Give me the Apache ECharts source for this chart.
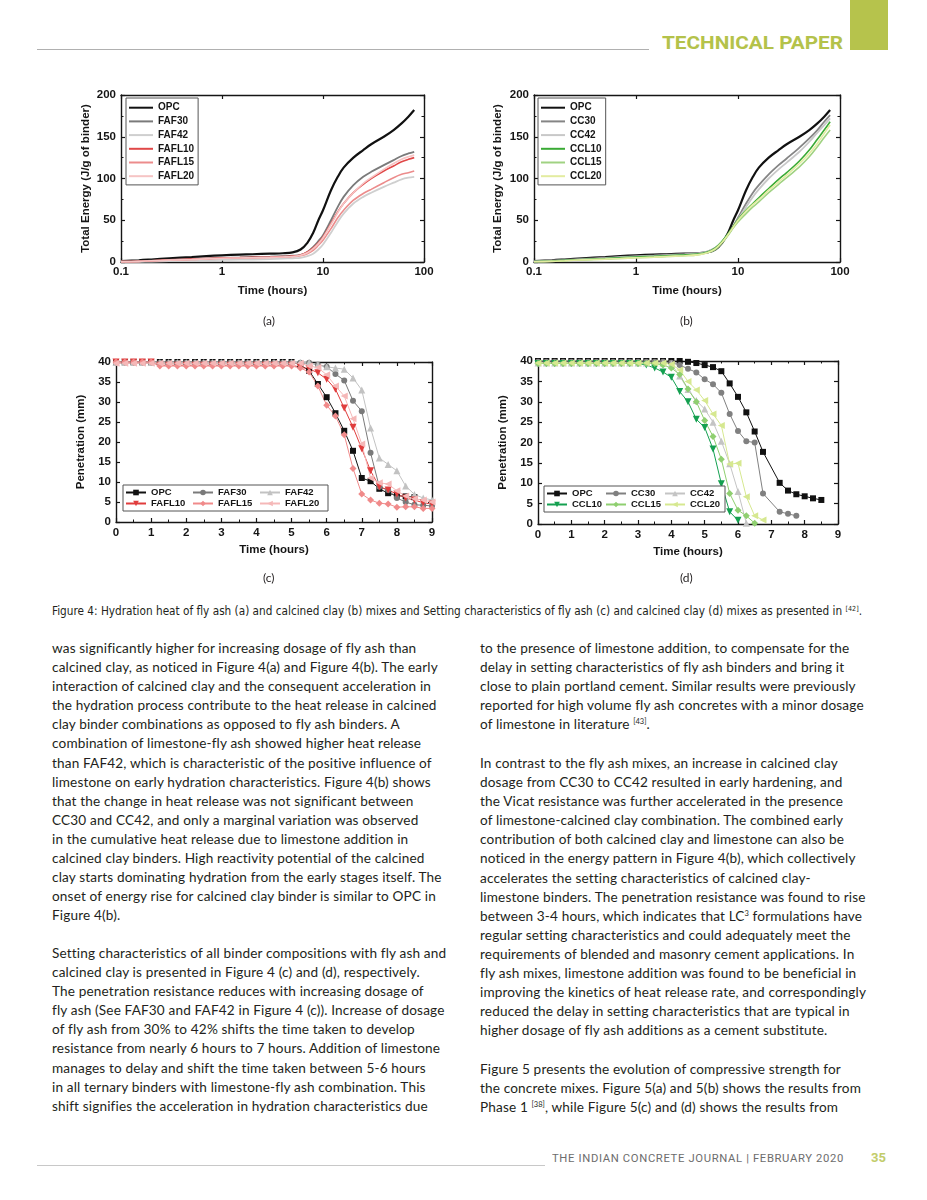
<!DOCTYPE html>
<html>
<head>
<meta charset="utf-8">
<script src="https://cdn.jsdelivr.net/npm/echarts@6/dist/echarts.min.js"></script>
<style>
  html, body { margin:0; padding:0; }
  body { width:927px; height:1200px; position:relative; background:#fff; overflow:hidden; }
  .abs { position:absolute; }
  .chart { position:absolute; width:390px; height:250px; }
  .col { position:absolute; font-family:Lato, "Noto Sans", sans-serif; font-size:13.6px; letter-spacing:0.15px; line-height:19.1px; color:#231f20; white-space:nowrap; }
  .col sup { font-size:7.5px; line-height:0; vertical-align:5px; letter-spacing:0; }
  .sub { position:absolute; font-family:Lato, "Noto Sans", sans-serif; font-size:12px; color:#231f20; }
</style>
</head>
<body>
<!-- header -->
<div class="abs" style="left:37px; top:49px; width:612px; height:1px; background:#b0b0b0;"></div>
<div class="abs fit" data-w="181" style="left:662px; top:32px; font-family:Roboto, sans-serif; font-weight:bold; font-size:18.5px; line-height:22px; color:#b4c24a; white-space:nowrap;">TECHNICAL PAPER</div>
<div class="abs" style="left:850px; top:0px; width:38px; height:50px; background:#b6c34c;"></div>

<div id="ca" class="chart" style="left:60px; top:80px;"></div>
<div id="cb" class="chart" style="left:470px; top:80px;"></div>
<div id="cc" class="chart" style="left:60px; top:340px;"></div>
<div id="cd" class="chart" style="left:470px; top:340px;"></div>

<div class="sub" style="left:263px; top:313px;">(a)</div>
<div class="sub" style="left:680px; top:313px;">(b)</div>
<div class="sub" style="left:263px; top:570px;">(c)</div>
<div class="sub" style="left:680px; top:570px;">(d)</div>

<div class="abs fit" data-w="810" style="left:52px; top:604px; font-family:'Liberation Sans Narrow','DejaVu Sans Condensed',sans-serif; font-size:11.5px; line-height:14px; color:#231f20; white-space:nowrap;">Figure 4: Hydration heat of fly ash (a) and calcined clay (b) mixes and Setting characteristics of fly ash (c) and calcined clay (d) mixes as presented in <sup style="font-size:7px; vertical-align:4px; line-height:0;">[42]</sup>.</div>

<div class="col" style="left:52px; top:639px;">
<div>was significantly higher for increasing dosage of fly ash than</div>
<div>calcined clay, as noticed in Figure 4(a) and Figure 4(b). The early</div>
<div>interaction of calcined clay and the consequent acceleration in</div>
<div>the hydration process contribute to the heat release in calcined</div>
<div>clay binder combinations as opposed to fly ash binders. A</div>
<div>combination of limestone-fly ash showed higher heat release</div>
<div>than FAF42, which is characteristic of the positive influence of</div>
<div>limestone on early hydration characteristics. Figure 4(b) shows</div>
<div>that the change in heat release was not significant between</div>
<div>CC30 and CC42, and only a marginal variation was observed</div>
<div>in the cumulative heat release due to limestone addition in</div>
<div>calcined clay binders. High reactivity potential of the calcined</div>
<div>clay starts dominating hydration from the early stages itself. The</div>
<div>onset of energy rise for calcined clay binder is similar to OPC in</div>
<div>Figure 4(b).</div>
</div>
<div class="col" style="left:52px; top:944px;">
<div>Setting characteristics of all binder compositions with fly ash and</div>
<div>calcined clay is presented in Figure 4 (c) and (d), respectively.</div>
<div>The penetration resistance reduces with increasing dosage of</div>
<div>fly ash (See FAF30 and FAF42 in Figure 4 (c)). Increase of dosage</div>
<div>of fly ash from 30% to 42% shifts the time taken to develop</div>
<div>resistance from nearly 6 hours to 7 hours. Addition of limestone</div>
<div>manages to delay and shift the time taken between 5-6 hours</div>
<div>in all ternary binders with limestone-fly ash combination. This</div>
<div>shift signifies the acceleration in hydration characteristics due</div>
</div>

<div class="col" style="left:480px; top:639px;">
<div>to the presence of limestone addition, to compensate for the</div>
<div>delay in setting characteristics of fly ash binders and bring it</div>
<div>close to plain portland cement. Similar results were previously</div>
<div>reported for high volume fly ash concretes with a minor dosage</div>
<div>of limestone in literature <sup>[43]</sup>.</div>
</div>
<div class="col" style="left:480px; top:754px;">
<div>In contrast to the fly ash mixes, an increase in calcined clay</div>
<div>dosage from CC30 to CC42 resulted in early hardening, and</div>
<div>the Vicat resistance was further accelerated in the presence</div>
<div>of limestone-calcined clay combination. The combined early</div>
<div>contribution of both calcined clay and limestone can also be</div>
<div>noticed in the energy pattern in Figure 4(b), which collectively</div>
<div>accelerates the setting characteristics of calcined clay-</div>
<div>limestone binders. The penetration resistance was found to rise</div>
<div>between 3-4 hours, which indicates that LC<sup>3</sup> formulations have</div>
<div>regular setting characteristics and could adequately meet the</div>
<div>requirements of blended and masonry cement applications. In</div>
<div>fly ash mixes, limestone addition was found to be beneficial in</div>
<div>improving the kinetics of heat release rate, and correspondingly</div>
<div>reduced the delay in setting characteristics that are typical in</div>
<div>higher dosage of fly ash additions as a cement substitute.</div>
</div>
<div class="col" style="left:480px; top:1060px;">
<div>Figure 5 presents the evolution of compressive strength for</div>
<div>the concrete mixes. Figure 5(a) and 5(b) shows the results from</div>
<div>Phase 1 <sup>[38]</sup>, while Figure 5(c) and (d) shows the results from</div>
</div>

<!-- footer -->
<div class="abs" style="left:37px; top:1165px; width:508px; height:1px; background:#c8c8c8;"></div>
<div class="abs fit" data-w="292" style="left:552px; top:1153px; font-family:Roboto, sans-serif; font-size:10.5px; line-height:12px; letter-spacing:0.6px; color:#6d6d6d; white-space:nowrap;">THE INDIAN CONCRETE JOURNAL | FEBRUARY 2020</div>
<div class="abs" style="left:871px; top:1151px; font-family:Roboto, sans-serif; font-weight:bold; font-size:13px; line-height:14px; color:#c2cc6a;">35</div>

<script>
// ---------------- DATA ----------------
// Fig 4(a),(b): cumulative heat, time in hours (log axis)
const tHeat = [0.1,0.15,0.2,0.3,0.5,0.7,1,1.5,2,3,4,5,6,7,8,9,10,12,14,16,20,25,30,40,50,60,70,80];
const heatOPC    = [1,2,3,4.5,6,7,8,8.8,9.3,10,10.5,11.5,15,23,35,50,62,86,102,113,125,134,141,150,158,166,174,182];
const heatFAF30  = [0.5,0.8,1.5,2.5,3.5,4,5,5.5,6,6.5,7,7.5,8.5,12,18,25,32,50,66,78,92,102,108,116,122,127,130,132];
const heatFAF42  = [0,0.2,0.5,1,1.5,2,2.5,2.8,3,3.5,4,4.5,5,7,10,15,21,35,48,58,70,78,83,90,95,99,101,102];
const heatFAFL10 = [0.5,0.8,1.5,2.5,3.5,4,5,5.2,5.5,6,6.5,7,8.5,12,17,23,30,46,60,70,83,93,100,109,115,120,123,125];
const heatFAFL15 = [0.5,0.8,1.5,2.2,3,3.8,4.5,4.8,5,5.5,6,6.5,7.5,10,14,20,26,40,53,62,74,82,87,95,101,105,107,109];
const heatFAFL20 = [0.5,0.8,1.5,2.2,3,3.8,4.5,4.8,5,5.5,6,6.5,8,11,16,22,29,45,59,70,83,94,101,111,118,123,126,128];
const heatCC30   = [1,1.8,2.5,3.8,5,6,7,7.8,8.5,9.5,10.5,12.5,17,24,33,43,53,70,83,92,105,116,124,137,148,158,168,176];
const heatCC42   = [0.5,1.2,2,3.2,4.5,5.5,6.5,7.3,8,9,10,12.5,17,24,33,42,51,66,78,87,100,111,119,132,144,155,164,172];
const heatCCL10  = [0.5,1.2,2,3,4,5,6,6.8,7.5,8.5,9.5,12,17,25,34,43,51,62,70,77,88,99,107,121,134,147,158,168];
const heatCCL15  = [0.3,0.8,1.5,2.5,3.5,4.2,5,5.8,6.5,7.5,8.5,11,15,23,32,41,48,58,66,72,83,93,101,114,126,138,149,158];
const heatCCL20  = [0.3,0.8,1.5,2.5,3.5,4.2,5,5.8,6.5,7.5,8.5,11,16,24,33,42,50,61,69,75,86,96,104,118,130,142,154,164];
const heatTicksY = [0,50,100,150,200];

// Fig 4(c),(d): penetration (mm), time in hours
const tPen = [0,0.25,0.5,0.75,1,1.25,1.5,1.75,2,2.25,2.5,2.75,3,3.25,3.5,3.75,4,4.25,4.5,4.75,5,5.25,5.5,5.75,6,6.25,6.5,6.75,7,7.25,7.5,7.75,8,8.25,8.5,8.75,9];
const penOPCc   = [40,40,40,40,40,40,40,40,40,40,40,40,40,40,40,40,40,40,40,40,40,39.3,37.8,34.5,31.2,27.2,22.8,17.8,11.0,10.2,8.3,7.2,6.6,6.4,6.2,null,null];
const penFAF30  = [39.8,39.8,39.8,39.8,39.8,39.8,39.8,39.8,39.8,39.8,39.8,39.8,39.8,39.8,39.8,39.8,39.8,39.8,39.8,39.8,39.8,39.8,39.8,39.3,38.8,37.0,35.4,30.3,27.7,17.3,8.8,8.0,6.0,5.0,4.3,4.2,4.0];
const penFAF42  = [39.9,39.9,39.9,39.9,39.9,39.9,39.9,39.9,39.9,39.9,39.9,39.9,39.9,39.9,39.9,39.9,39.9,39.9,39.9,39.9,39.9,39.9,39.9,39.3,38.8,38.5,38.2,36.0,33.0,23.5,16.0,14.4,12.8,9.0,6.9,6.0,5.5];
const penFAFL10 = [40,40,40,40,40,39.2,39.2,39.2,39.2,39.2,39.2,39.2,39.2,39.2,39.2,39.2,39.2,39.2,39.2,39.2,39.2,38.7,38.3,37.3,35.7,33.2,28.5,23.7,18.3,12.8,8.8,8.0,7.0,6.0,5.5,4.8,4.5];
const penFAFL15 = [40,40,40,40,40,39.0,39.0,39.0,39.0,39.0,39.0,39.0,39.0,39.0,39.0,39.0,39.0,39.0,39.0,39.0,39.0,38.5,37.5,34.0,29.2,26.5,21.8,13.4,7.0,5.5,4.7,4.5,3.7,3.8,3.8,3.4,3.4];
const penFAFL20 = [39.7,39.7,39.7,39.7,39.7,39.7,39.7,39.7,39.7,39.7,39.7,39.7,39.7,39.7,39.7,39.7,39.7,39.7,39.7,39.7,39.7,39.7,39.0,38.6,36.8,34.0,31.5,25.8,19.5,11.0,9.8,9.5,7.8,6.5,5.8,5.5,5.0];
const penOPCd   = [40,40,40,40,40,40,40,40,40,40,40,40,40,40,40,40,40,40,39.8,39.5,39.0,38.5,37.5,34.5,31.2,27.4,22.7,17.7,null,10.1,8.2,7.3,6.8,6.3,5.9,null,null];
const penCC30   = [39.8,39.8,39.8,39.8,39.8,39.8,39.8,39.8,39.8,39.8,39.8,39.8,39.8,39.8,39.8,39.8,39.6,39.0,38.1,37.2,35.5,34.3,32.2,27.0,22.8,20.3,20.0,7.5,null,3.0,2.5,2.0,null,null,null,null,null];
const penCC42   = [39.5,39.5,39.5,39.5,39.5,39.5,39.5,39.5,39.5,39.5,39.5,39.5,39.5,39.5,39.5,39.5,39.3,36.3,33.0,30.3,28.2,25.0,20.3,14.8,8.0,0.2,null,null,null,null,null,null,null,null,null,null,null];
const penCCL10  = [39.4,39.4,39.4,39.4,39.4,39.4,39.4,39.4,39.4,39.4,39.4,39.4,39.4,39.0,38.3,37.3,36.0,32.5,30.0,25.7,23.7,18.4,9.9,3.0,0.9,null,null,null,null,null,null,null,null,null,null,null,null];
const penCCL15  = [39.4,39.4,39.4,39.4,39.4,39.4,39.4,39.4,39.4,39.4,39.4,39.4,39.4,39.4,39.4,39.0,38.3,36.7,33.1,30.0,25.4,21.5,15.9,7.5,3.4,2.0,0.2,null,null,null,null,null,null,null,null,null,null];
const penCCL20  = [39.5,39.5,39.5,39.5,39.5,39.5,39.5,39.5,39.5,39.5,39.5,39.5,39.5,39.5,39.5,39.5,39.2,37.8,35.0,32.9,30.3,27.0,24.2,14.7,14.9,6.7,2.0,1.0,null,null,null,null,null,null,null,null,null];
const penTicksY = [0,5,10,15,20,25,30,35,40];
const penTicksX = [0,1,2,3,4,5,6,7,8,9];

// ---------------- STYLE HELPERS ----------------
const FONT = '"Liberation Sans", Arial, sans-serif';
const INK = '#151515';
function axisBase(extra) {
  return Object.assign({
    axisLine: { show:true, onZero:false, lineStyle:{ color:INK, width:1.4 } },
    axisTick: { show:true, inside:true, length:4, lineStyle:{ color:INK, width:1.2 } },
    axisLabel: { color:INK, fontWeight:'bold', fontSize:11.5, fontFamily:FONT, margin:5 },
    splitLine: { show:false },
    nameTextStyle: { color:INK, fontWeight:'bold', fontSize:11.5, fontFamily:FONT },
    nameLocation: 'middle',
    nameMoveOverlap: false
  }, extra);
}
function mirror(axis, pos) {
  const a = JSON.parse(JSON.stringify(axis));
  delete a.name;
  a.position = pos;
  a.axisLabel = { show:false };
  return a;
}
function heatSeries(name, vals, color, width) {
  return { type:'line', name, data: tHeat.map((t,i)=>[t, vals[i]]), symbol:'none', smooth:0.35,
           lineStyle:{ color, width }, itemStyle:{ color }, animation:false };
}
function penSeries(name, vals, color, symbol, rot, size) {
  return { type:'line', name, data: tPen.map((t,i)=>[t, vals[i]]).filter(p=>p[1]!=null),
           symbol, symbolRotate: rot||0, symbolSize: size||6, showSymbol:true, showAllSymbol:true,
           lineStyle:{ color, width:1 }, itemStyle:{ color }, animation:false };
}
function heatOption(gridPos, legendPos, yGap, series) {
  const x = axisBase({ type:'log', logBase:10, min:0.1, max:100, name:'Time (hours)', nameGap:23,
                       axisLabel:{ color:INK, fontWeight:'bold', fontSize:11.5, fontFamily:FONT, margin:4, formatter:v=>String(v) } });
  const y = axisBase({ type:'value', min:heatTicksY[0], max:heatTicksY[heatTicksY.length-1], interval:heatTicksY[1]-heatTicksY[0],
                       name:'Total Energy (J/g of binder)', nameGap:yGap, minorTick:{ show:true, splitNumber:2, length:2.5, lineStyle:{ color:INK } } });
  return {
    animation:false,
    grid: gridPos,
    xAxis: [x, mirror(x,'top')],
    yAxis: [y, mirror(y,'right')],
    legend: Object.assign({ orient:'vertical', icon:'rect', itemWidth:24, itemHeight:2, itemGap:2.3, padding:[4,4,3,3],
      borderColor:'#555', borderWidth:1, backgroundColor:'#fff',
      textStyle:{ color:INK, fontWeight:'bold', fontSize:10, fontFamily:FONT, lineHeight:11.4 } }, legendPos),
    series
  };
}
function penOption(gridPos, legendPos, yGap, textW, series) {
  const x = axisBase({ type:'value', min:penTicksX[0], max:penTicksX[penTicksX.length-1], interval:1, name:'Time (hours)', nameGap:22,
                       minorTick:{ show:true, splitNumber:2, length:2.5, lineStyle:{ color:INK } } });
  const y = axisBase({ type:'value', min:penTicksY[0], max:penTicksY[penTicksY.length-1], interval:5, name:'Penetration (mm)', nameGap:yGap });
  return {
    animation:false,
    grid: gridPos,
    xAxis: [x, mirror(x,'top')],
    yAxis: [y, mirror(y,'right')],
    legend: Object.assign({ orient:'horizontal', itemWidth:20, itemHeight:7, itemGap:0, padding:[2,2,2,2],
      borderColor:'#555', borderWidth:1, backgroundColor:'#fff',
      textStyle:{ color:INK, fontWeight:'bold', fontSize:9.5, fontFamily:FONT, width:textW, lineHeight:11 } }, legendPos),
    series
  };
}

// ---------------- CHARTS ----------------
const ca = echarts.init(document.getElementById('ca'), null, { renderer:'canvas' });
ca.setOption(heatOption(
  { left:61, right:26, top:15, bottom:68 },
  { left:66, top:18 }, 29,
  [ heatSeries('OPC', heatOPC, '#111111', 2.2),
    heatSeries('FAF30', heatFAF30, '#7a7a7a', 1.8),
    heatSeries('FAF42', heatFAF42, '#cfcfcf', 1.8),
    heatSeries('FAFL10', heatFAFL10, '#e04848', 1.6),
    heatSeries('FAFL15', heatFAFL15, '#ec8c8c', 1.6),
    heatSeries('FAFL20', heatFAFL20, '#f6c4c4', 1.6) ]));

const cb = echarts.init(document.getElementById('cb'), null, { renderer:'canvas' });
cb.setOption(heatOption(
  { left:64, right:20, top:15, bottom:68 },
  { left:68, top:18 }, 30,
  [ heatSeries('OPC', heatOPC, '#111111', 2.2),
    heatSeries('CC30', heatCC30, '#858585', 1.8),
    heatSeries('CC42', heatCC42, '#c8c8c8', 1.8),
    heatSeries('CCL10', heatCCL10, '#3aaa35', 1.6),
    heatSeries('CCL15', heatCCL15, '#a0d282', 1.6),
    heatSeries('CCL20', heatCCL20, '#e3eca0', 1.6) ]));

const cc = echarts.init(document.getElementById('cc'), null, { renderer:'canvas' });
cc.setOption(penOption(
  { left:56, right:18, top:22, bottom:68 },
  { left:63, top:145, width:240 }, 29, 41,
  [ penSeries('OPC', penOPCc, '#111111', 'rect', 0, 6),
    penSeries('FAF30', penFAF30, '#7a7a7a', 'circle', 0, 6),
    penSeries('FAF42', penFAF42, '#c2c2c2', 'triangle', 0, 7),
    penSeries('FAFL10', penFAFL10, '#e03c3c', 'triangle', 180, 7),
    penSeries('FAFL15', penFAFL15, '#f08a8a', 'diamond', 0, 7),
    penSeries('FAFL20', penFAFL20, '#f5b8b8', 'triangle', 90, 7) ]));

const cd = echarts.init(document.getElementById('cd'), null, { renderer:'canvas' });
cd.setOption(penOption(
  { left:68, right:22, top:21, bottom:66 },
  { left:74, top:146, width:180 }, 29, 33,
  [ penSeries('OPC', penOPCd, '#111111', 'rect', 0, 6),
    penSeries('CC30', penCC30, '#808080', 'circle', 0, 6),
    penSeries('CC42', penCC42, '#c4c4c4', 'triangle', 0, 7),
    penSeries('CCL10', penCCL10, '#14a050', 'triangle', 180, 7),
    penSeries('CCL15', penCCL15, '#8fcf70', 'diamond', 0, 7),
    penSeries('CCL20', penCCL20, '#d6e890', 'triangle', 90, 7) ]));

// fit a few single-line texts to their measured widths
document.querySelectorAll('.fit').forEach(el => {
  const target = parseFloat(el.dataset.w);
  const w = el.getBoundingClientRect().width;
  if (w > 0) { el.style.transformOrigin = 'left center'; el.style.transform = 'scaleX(' + (target / w) + ')'; }
});
</script>
</body>
</html>
